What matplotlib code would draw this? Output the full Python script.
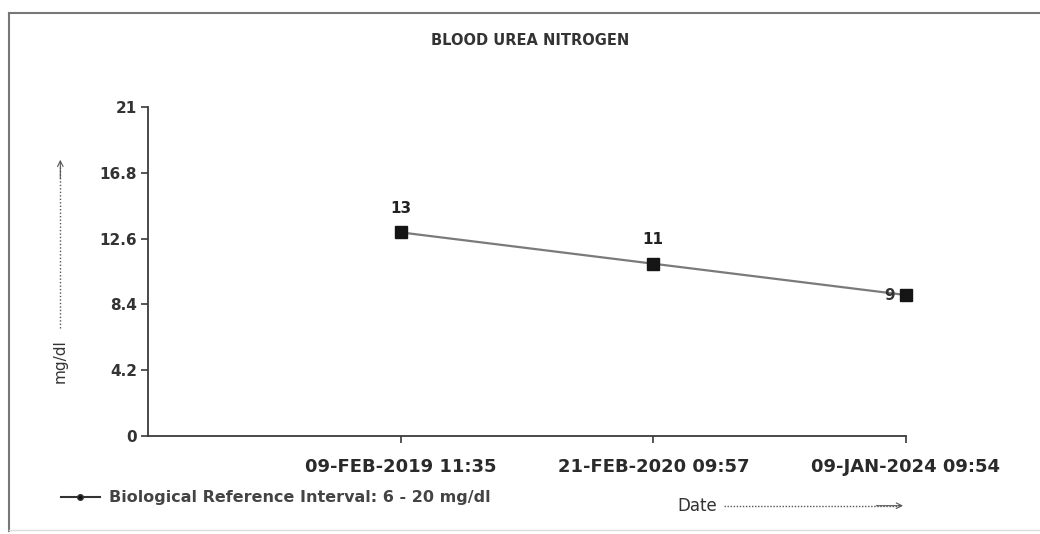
import matplotlib.pyplot as plt
from matplotlib.lines import Line2D

# chart data
dates = ["09-FEB-2019 11:35", "21-FEB-2020 09:57", "09-JAN-2024 09:54"]
values = [13, 11, 9]
y_ticks = [0, 4.2, 8.4, 12.6, 16.8, 21]
title = "BLOOD UREA NITROGEN"
legend_label = "Biological Reference Interval: 6 - 20 mg/dl"

xs = list(range(1, len(dates) + 1))

fig = plt.figure(figsize=(10.4, 5.34), dpi=100)
fig.patch.set_facecolor("white")
ax = fig.add_axes([0.1423, 0.1835, 0.7288, 0.616])

axis_col = "#3a3a3a"
ax.plot(xs, values, color="#7a7a7a", lw=1.6, zorder=2, clip_on=False)
ax.plot(xs, values, ls="none", marker="s", ms=9, color="#151515", zorder=3, clip_on=False)

# value labels
for i, (x, v) in enumerate(zip(xs, values)):
    if i == len(values) - 1:
        ax.annotate(str(v), (x, v), xytext=(-8, 0), textcoords="offset points",
                    ha="right", va="center", fontsize=11, fontweight="bold", color="#333333")
    else:
        ax.annotate(str(v), (x, v), xytext=(0, 12), textcoords="offset points",
                    ha="center", va="bottom", fontsize=11, fontweight="bold", color="#222222")

ax.set_xlim(0, len(dates))
ax.set_ylim(0, 21)
ax.set_xticks(xs)
ax.set_xticklabels(dates, fontsize=13, fontweight="bold", color="#2a2a2a")
ax.set_yticks(y_ticks)
ax.set_yticklabels([("%g" % t) for t in y_ticks], fontsize=11, fontweight="bold", color="#333333")

for s in ["top", "right"]:
    ax.spines[s].set_visible(False)
for s in ["left", "bottom"]:
    ax.spines[s].set_color(axis_col)
    ax.spines[s].set_linewidth(1.3)
ax.tick_params(axis="y", direction="out", length=5, width=1.2, color=axis_col, pad=3)
ax.tick_params(axis="x", direction="out", length=5, width=1.2, color=axis_col, pad=11)

# title
fig.text(0.51, 0.925, title, ha="center", va="center", fontsize=10.5, fontweight="bold", color="#333333")

# y axis label with dotted arrow
fig.text(0.058, 0.324, "mg/dl", rotation=90, ha="center", va="center", fontsize=11, color="#333333")
fig.add_artist(plt.Line2D([0.058, 0.058], [0.385, 0.69], transform=fig.transFigure,
                          color="#555555", lw=1.0, ls=(0, (1, 1.5))))
ax.annotate("", xy=(0.058, 0.706), xytext=(0.058, 0.66), xycoords="figure fraction",
            arrowprops=dict(arrowstyle="->", color="#555555", lw=0.8))

# x axis label with dotted arrow
fig.text(0.67, 0.053, "Date", ha="center", va="center", fontsize=12, color="#333333")
fig.add_artist(plt.Line2D([0.696, 0.865], [0.053, 0.053], transform=fig.transFigure,
                          color="#555555", lw=1.0, ls=(0, (1, 1.2))))
ax.annotate("", xy=(0.871, 0.053), xytext=(0.84, 0.053), xycoords="figure fraction",
            arrowprops=dict(arrowstyle="->", color="#555555", lw=0.8))

# legend
handle = Line2D([0], [0], color="#333333", lw=1.5, marker="o", ms=4, markerfacecolor="#111111")
fig.legend([handle], [legend_label], loc="center left", bbox_to_anchor=(0.045, 0.068),
           frameon=False, prop={"size": 11.5, "weight": "bold"}, handlelength=2.4,
           handletextpad=0.6, labelcolor="#444444")

# scanned page frame
fig.add_artist(plt.Line2D([0.009, 1.0], [0.975, 0.975], transform=fig.transFigure, color="#777777", lw=1.5))
fig.add_artist(plt.Line2D([0.009, 0.009], [0.005, 0.975], transform=fig.transFigure, color="#777777", lw=1.5))
fig.add_artist(plt.Line2D([0.009, 1.0], [0.008, 0.008], transform=fig.transFigure, color="#dddddd", lw=1.0))

fig.savefig("out.png", dpi=100)
